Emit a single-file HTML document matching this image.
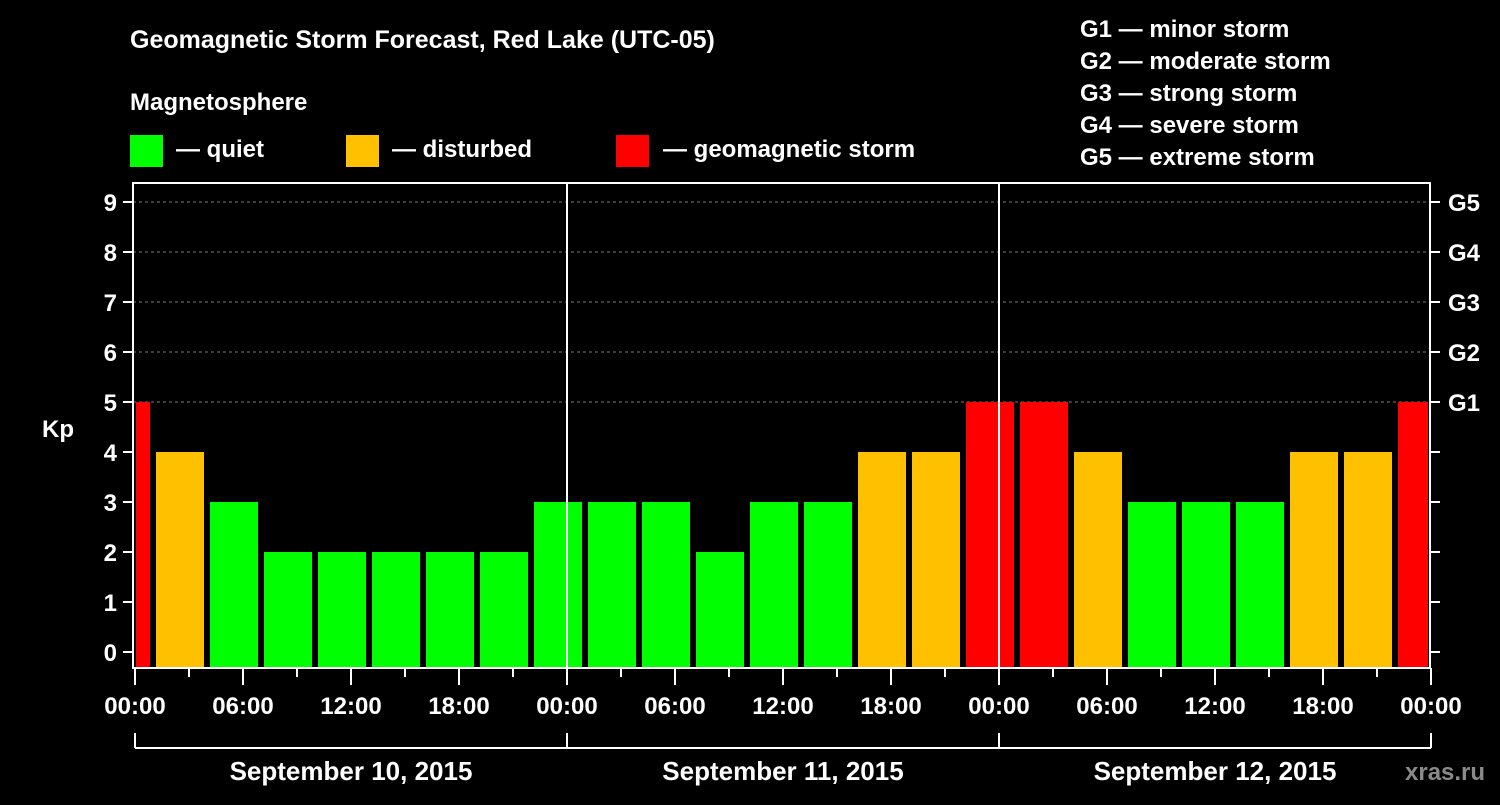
<!DOCTYPE html>
<html><head><meta charset="utf-8"><style>
body{margin:0;background:#000;width:1500px;height:800px;overflow:hidden}
svg text{font-family:"Liberation Sans",Arial,sans-serif;font-weight:bold;fill:#fff}
</style></head><body>
<svg id="chart" width="1500" height="800" xmlns="http://www.w3.org/2000/svg">
<rect width="1500" height="800" fill="#000"/>
<text x="130" y="48" font-size="25">Geomagnetic Storm Forecast, Red Lake (UTC-05)</text>
<text x="130" y="110" font-size="24">Magnetosphere</text>
<g><rect x="130" y="135" width="33" height="32" fill="#00ff00"/><text x="176" y="157" font-size="24">— quiet</text></g>
<g><rect x="346" y="135" width="33" height="32" fill="#ffc000"/><text x="392" y="157" font-size="24">— disturbed</text></g>
<g><rect x="616" y="135" width="33" height="32" fill="#ff0000"/><text x="663" y="157" font-size="24">— geomagnetic storm</text></g>
<g font-size="24">
<text x="1080" y="37">G1 — minor storm</text>
<text x="1080" y="69">G2 — moderate storm</text>
<text x="1080" y="101">G3 — strong storm</text>
<text x="1080" y="133">G4 — severe storm</text>
<text x="1080" y="165">G5 — extreme storm</text>
</g>
<g id="grid"></g>
<g id="bars"></g>
<g id="axes"></g>
<text x="1405" y="780" font-size="24" fill="#888" style="fill:#8a8a8a">xras.ru</text>
</svg>
<script>
const kpValues=[5,4,3,2,2,2,2,2,3,3,3,2,3,3,4,4,5,5,4,3,3,3,4,4,5];
const binStartHour=-2;
const yTicks=[0,1,2,3,4,5,6,7,8,9];
const gLabels=["G1","G2","G3","G4","G5"];
const xTickLabels=["00:00","06:00","12:00","18:00","00:00","06:00","12:00","18:00","00:00","06:00","12:00","18:00","00:00"];
const dayLabels=["September 10, 2015","September 11, 2015","September 12, 2015"];
const NS="http://www.w3.org/2000/svg";
const L=133,R=1430,T=183,B=668;
const x=h=>135+h*18;
const y=k=>652-k*50;
function mk(tag,attrs,parent){const e=document.createElementNS(NS,tag);for(const k in attrs)e.setAttribute(k,attrs[k]);parent.appendChild(e);return e;}
const grid=document.getElementById('grid'),bars=document.getElementById('bars'),axes=document.getElementById('axes');
for(let k=5;k<=9;k++){const l=mk('line',{x1:L,x2:R,y1:y(k),y2:y(k),stroke:'#777','stroke-dasharray':'3,3','stroke-width':1},grid);

}
kpValues.forEach((v,i)=>{const h0=binStartHour+i*3;let x0=x(h0)+3,x1=x(h0+3)-3;x0=Math.max(x0,L+3);x1=Math.min(x1,R-2);
const c=v>=5?'#ff0000':(v>=4?'#ffc000':'#00ff00');
const r=mk('rect',{x:x0,y:y(v),width:x1-x0,height:B-1-y(v),fill:c},bars);

});
[24,48].forEach(h=>{const l=mk('line',{x1:x(h),x2:x(h),y1:T,y2:B,stroke:'#fff','stroke-width':2},axes);

});
const fr=mk('rect',{x:L,y:T,width:R-L,height:B-T,fill:'none',stroke:'#fff','stroke-width':2},axes);


yTicks.forEach(k=>{mk('line',{x1:L-10,x2:L,y1:y(k),y2:y(k),stroke:'#fff','stroke-width':2},axes);
mk('line',{x1:R,x2:R+10,y1:y(k),y2:y(k),stroke:'#fff','stroke-width':2},axes);
const t=mk('text',{x:L-16,y:y(k)+9,'font-size':24,'text-anchor':'end'},axes);t.textContent=k;

});
gLabels.forEach((g,i)=>{const t=mk('text',{x:R+18,y:y(5+i)+9,'font-size':24},axes);t.textContent=g;

});
const kp=mk('text',{x:42,y:437,'font-size':24},axes);kp.textContent='Kp';


for(let h=0;h<=72;h+=3){const major=h%6===0;mk('line',{x1:x(h),x2:x(h),y1:B,y2:B+(major?17:9),stroke:'#fff','stroke-width':2},axes);}
xTickLabels.forEach((s,i)=>{const t=mk('text',{x:x(i*6),y:714,'font-size':24,'text-anchor':'middle'},axes);t.textContent=s;

});
mk('line',{x1:x(0),x2:x(72),y1:748,y2:748,stroke:'#fff','stroke-width':2},axes);
[0,24,48,72].forEach(h=>mk('line',{x1:x(h),x2:x(h),y1:733,y2:748,stroke:'#fff','stroke-width':2},axes));
dayLabels.forEach((s,i)=>{const t=mk('text',{x:x(i*24+12),y:780,'font-size':26,'text-anchor':'middle'},axes);t.textContent=s;

});
</script>
</body></html>
